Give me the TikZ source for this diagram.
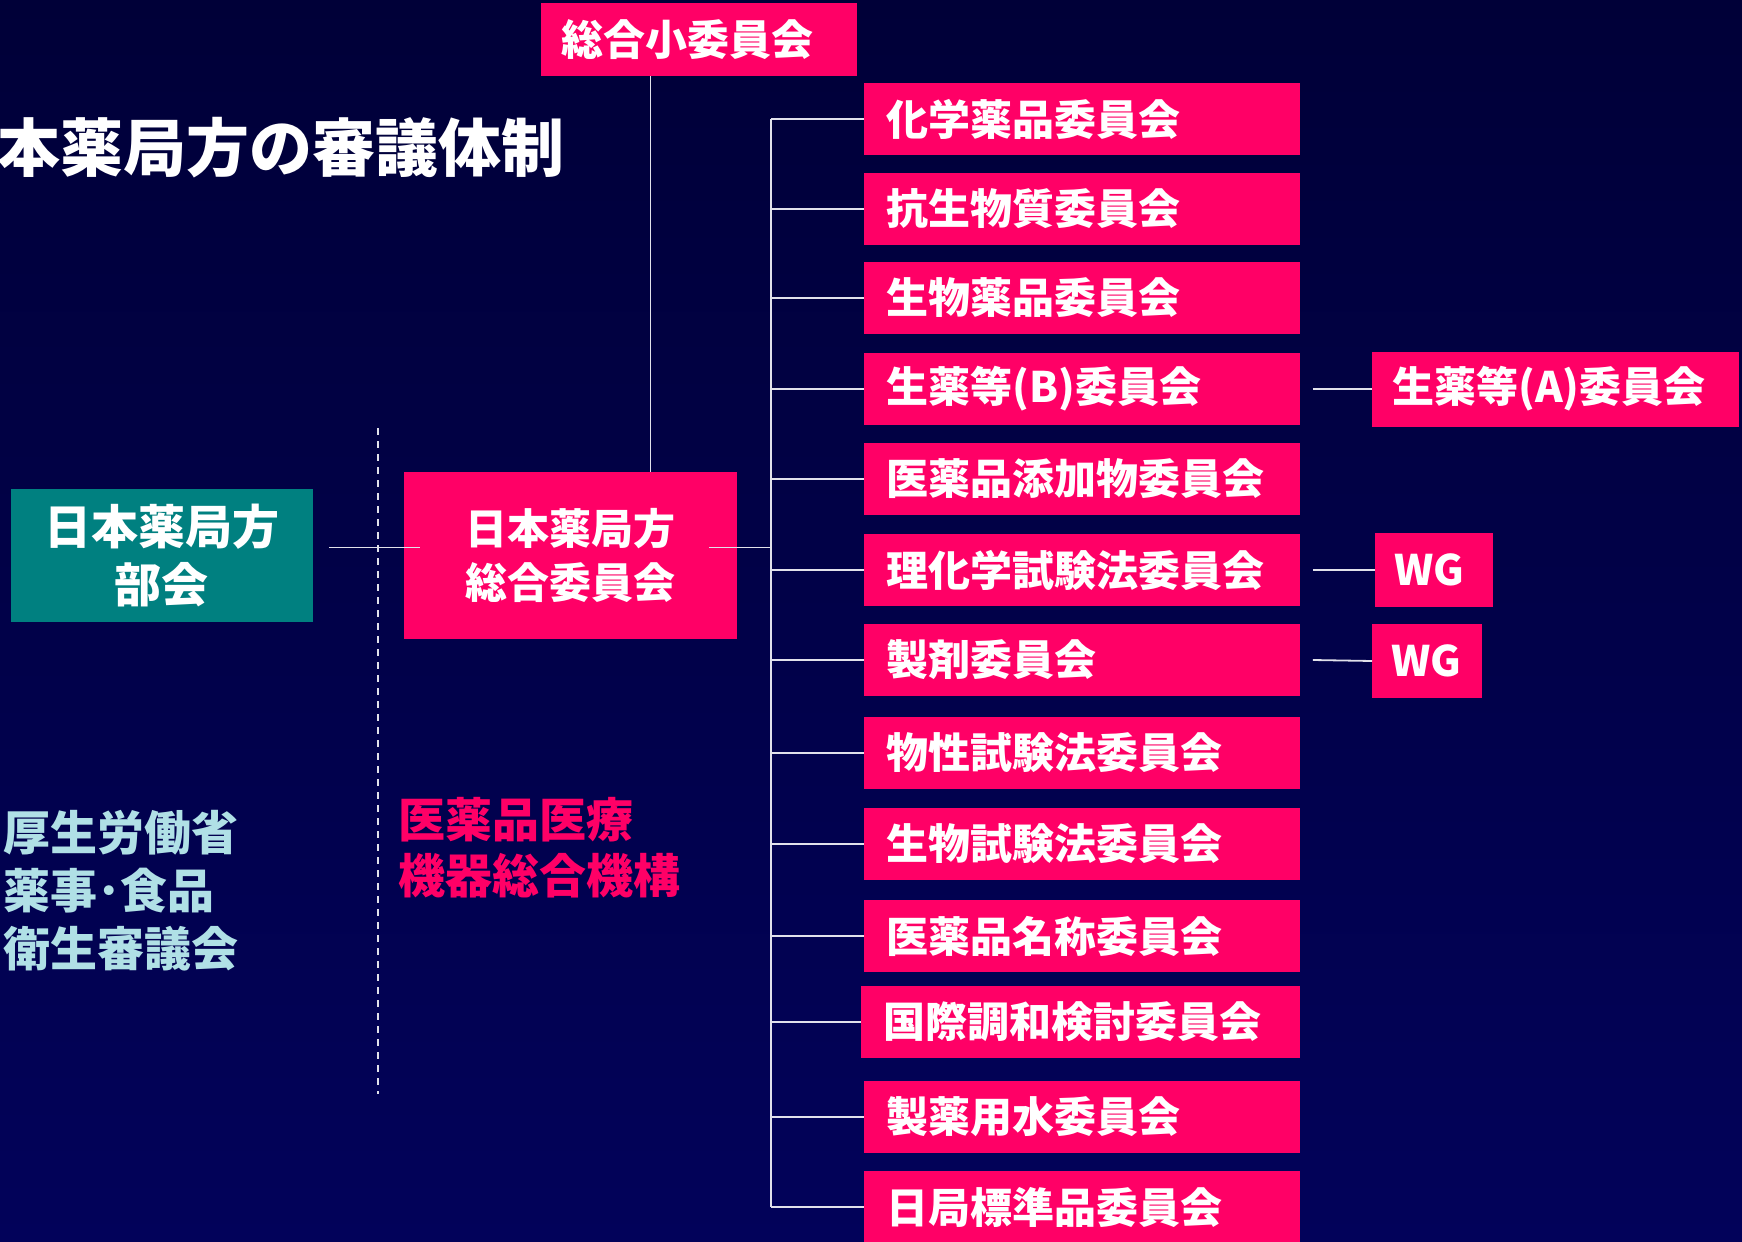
\documentclass[tikz,border=0pt]{standalone}
\usepackage{fontspec}
\setmainfont{Noto Sans CJK JP}
\usepackage{tikz}
\usetikzlibrary{calc}
\definecolor{bgtop}{RGB}{0,0,56}
\definecolor{bgbot}{RGB}{2,2,90}
\definecolor{jppink}{RGB}{255,0,102}
\definecolor{jpteal}{RGB}{0,128,128}
\definecolor{mhlwblue}{RGB}{176,224,230}
\definecolor{linewhite}{RGB}{225,225,235}
\tikzset{
    iinkai/.style={%
        fill=jppink, text=white, anchor=west, align=left,
        minimum height=36pt, inner xsep=11pt, inner ysep=0pt, text width=196pt,
        font=\fontsize{21}{25}\selectfont\bfseries
    },
    wgbox/.style={%
        fill=jppink, text=white, anchor=west, align=left,
        minimum height=37pt, inner xsep=9.5pt, inner ysep=0pt,
        font=\fontsize{21}{25}\selectfont\bfseries
    },
    link/.style={draw=linewhite, line width=0.9pt}
}

\begin{document}
\begin{tikzpicture}[x=0.5pt, y=-0.5pt]
        \shade[top color=bgtop, bottom color=bgbot] (0,0) rectangle (1742,1242);
        \useasboundingbox (0,0) rectangle (1742,1242);

        \draw (-3,148) node[anchor=west, inner sep=0pt, text=white, font=\fontsize{31.5}{36}\selectfont\bfseries](title){本薬局方の審議体制};

        \draw (541,39.5) node[wgbox, minimum height=36.5pt, inner xsep=10pt, text width=138pt](shoiin){総合小委員会};

        \draw (162,555.5) node[fill=jpteal, text=white, align=center, minimum width=151pt, minimum height=66.5pt, font=\fontsize{23.5}{29}\selectfont\bfseries](bukai){日本薬局方\\部会};
        \draw (570.5,555.5) node[fill=jppink, text=white, align=center, minimum width=166.5pt, minimum height=83.5pt, font=\fontsize{21}{27}\selectfont\bfseries](gen){日本薬局方\\総合委員会};

        \draw (3,891) node[anchor=west, align=left, inner sep=0pt, text=mhlwblue, font=\fontsize{23.5}{29}\selectfont\bfseries](mhlw){厚生労働省\\薬事･食品\\衛生審議会};
        \draw (398,848) node[anchor=west, align=left, inner sep=0pt, text=jppink, font=\fontsize{23.5}{28}\selectfont\bfseries](pmda){医薬品医療\\機器総合機構};

        % committees
        \draw (864,119) node[iinkai](chem){化学薬品委員会};
        \draw (864,209) node[iinkai](anti){抗生物質委員会};
        \draw (864,298) node[iinkai](bio){生物薬品委員会};
        \draw (864,389) node[iinkai](shoB){生薬等(B)委員会};
        \draw (864,479) node[iinkai](excip){医薬品添加物委員会};
        \draw (864,570) node[iinkai](rika){理化学試験法委員会};
        \draw (864,660) node[iinkai](seizai){製剤委員会};
        \draw (864,753) node[iinkai](bussei){物性試験法委員会};
        \draw (864,844) node[iinkai](biotest){生物試験法委員会};
        \draw (864,936) node[iinkai](name){医薬品名称委員会};
        \draw (861,1022) node[iinkai, text width=197.5pt](ich){国際調和検討委員会};
        \draw (864,1117) node[iinkai](water){製薬用水委員会};
        \draw (864,1207) node[iinkai](jpstd){日局標準品委員会};

        \draw (1372,389) node[wgbox, minimum height=37.5pt, inner xsep=10pt, text width=163.5pt](shoA){生薬等(A)委員会};
        \draw (1375,570) node[wgbox, text width=40pt](wga){WG};
        \draw (1372,661) node[wgbox, text width=36pt](wgb){WG};

        \coordinate (trunk) at (771,0);
        \coordinate (divtop) at (378,428);
        \coordinate (divbot) at (378,1094);

        \draw[linewhite, line width=0.6pt, dash pattern=on 3.5pt off 3pt] (divtop) to (divbot);

        \draw[link] ([xshift=8pt, yshift=4pt]bukai.east) to ([xshift=8pt, yshift=4pt]gen.west);
        \draw[link] ([xshift=-14pt, yshift=4pt]gen.east) to ([yshift=4pt]gen.east -| trunk);
        \draw[link] ([xshift=40pt]gen.north) to ([xshift=40pt]gen.north |- shoiin.south);

        \draw[link] (trunk |- chem.west) to (trunk |- jpstd.west);
        \draw[link] (trunk |- chem.west) to (chem.west);
        \draw[link] (trunk |- anti.west) to (anti.west);
        \draw[link] (trunk |- bio.west) to (bio.west);
        \draw[link] (trunk |- shoB.west) to (shoB.west);
        \draw[link] (trunk |- excip.west) to (excip.west);
        \draw[link] (trunk |- rika.west) to (rika.west);
        \draw[link] (trunk |- seizai.west) to (seizai.west);
        \draw[link] (trunk |- bussei.west) to (bussei.west);
        \draw[link] (trunk |- biotest.west) to (biotest.west);
        \draw[link] (trunk |- name.west) to (name.west);
        \draw[link] (trunk |- ich.west) to (ich.west);
        \draw[link] (trunk |- water.west) to (water.west);
        \draw[link] (trunk |- jpstd.west) to (jpstd.west);

        \draw[link] ([xshift=6pt]shoB.east) to (shoA.west);
        \draw[link] ([xshift=6pt]rika.east) to (wga.west);
        \draw[link] ([xshift=6pt]seizai.east) to (wgb.west);
    \end{tikzpicture}
\end{document}
